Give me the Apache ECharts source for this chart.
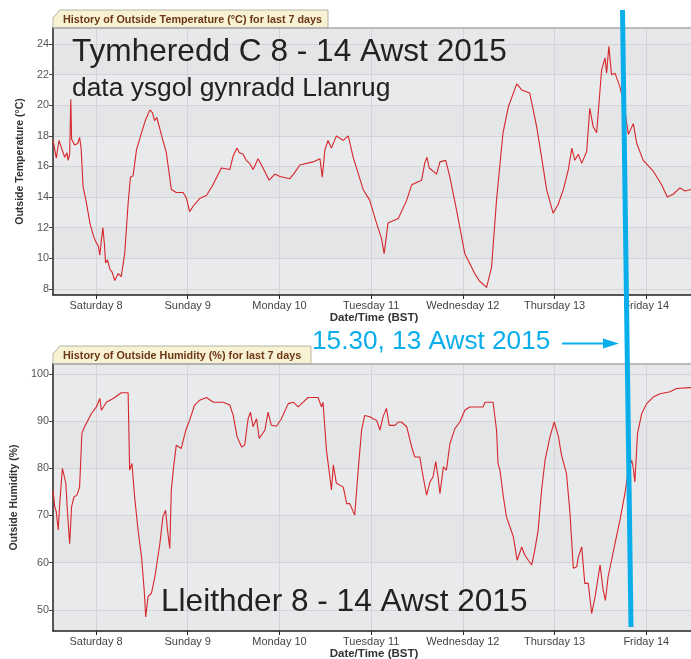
<!DOCTYPE html>
<html>
<head>
<meta charset="utf-8">
<script src="https://cdn.jsdelivr.net/npm/echarts@6/dist/echarts.min.js"></script>
<style>
  html, body { margin: 0; padding: 0; background: #fff; }
  #chart { width: 691px; height: 659px; }
</style>
</head>
<body>
<div id="chart"></div>
<script>
  // hours from Saturday 8 00:00 (BST)
  var dayTicks = [0, 24, 48, 72, 96, 120, 144]
  var dayLabels = ['Saturday 8', 'Sunday 9', 'Monday 10', 'Tuesday 11', 'Wednesday 12', 'Thursday 13', 'Friday 14']
  var tempTicks = [8, 10, 12, 14, 16, 18, 20, 22, 24]
  var humTicks = [50, 60, 70, 80, 90, 100]

  var tempHours = [-11.26, -10.4, -9.7, -9.2, -8.2, -7.6, -7.3, -6.9, -6.6, -6.4, -5.6, -4.8, -4.3, -3.9, -3.4, -2.5, -1.6, -0.6, 0.1, 0.6,
    1.0, 1.4, 1.8, 2.2, 2.5, 3.0, 3.6, 4.2, 4.9, 5.4, 5.8, 6.6, 7.5, 8.4, 9.0, 9.7, 10.6, 11.9, 12.9, 14.1,
    14.8, 15.3, 15.9, 17.5, 18.4, 19.7, 21.0, 22.8, 23.7, 24.5, 25.4, 27.1, 28.9, 30.6, 32.8, 33.2, 35.0, 35.9, 36.9, 37.5,
    38.5, 39.3, 40.2, 41.1, 42.4, 43.7, 45.3, 46.8, 48.1, 50.7, 52.0, 53.3, 56.8, 58.6, 59.2, 59.9, 60.7, 61.6, 62.9, 64.7,
    66.0, 67.3, 69.9, 71.6, 73.4, 74.7, 75.4, 76.4, 79.1, 81.3, 82.6, 85.2, 86.0, 86.6, 87.2, 89.1, 90.0, 91.5, 92.6, 94.3,
    96.5, 99.1, 100.4, 102.2, 103.5, 104.8, 106.5, 107.9, 110.1, 111.4, 113.5, 115.3, 116.6, 117.9, 119.6, 120.9, 122.3, 123.6, 124.5, 125.3,
    126.2, 127.1, 128.4, 129.2, 130.1, 131.0, 132.3, 133.2, 133.6, 134.2, 134.9, 135.8, 137.1, 138.2, 139.3, 140.6, 141.5, 143.2, 145.8, 148.0,
    149.5, 151.1, 152.8, 154.1, 155.7, 156.7]
  var tempValues = [17.75, 16.55, 17.7, 17.6, 16.6, 16.9, 16.4, 16.8, 20.4, 17.8, 17.4, 17.5, 17.9, 17.2, 14.7, 13.6, 12.3, 11.4, 11.0, 10.8,
    10.2, 11.2, 12.0, 10.9, 9.7, 9.9, 9.3, 9.1, 8.55, 8.8, 9.0, 8.8, 10.3, 13.6, 15.3, 15.4, 17.1, 18.2, 19.0, 19.7,
    19.5, 19.0, 19.2, 17.7, 16.9, 14.5, 14.3, 14.3, 13.9, 13.05, 13.4, 13.9, 14.1, 14.8, 15.9, 16.0, 15.8, 16.7, 17.2, 16.9,
    16.8, 16.4, 16.2, 15.8, 16.5, 15.9, 15.1, 15.5, 15.35, 15.2, 15.6, 16.1, 16.3, 16.5, 15.3, 17.1, 17.7, 17.2, 18.0, 17.7,
    18.0, 16.6, 14.5, 13.8, 12.3, 11.3, 10.3, 12.3, 12.6, 13.8, 14.8, 15.1, 16.2, 16.6, 15.9, 15.5, 16.3, 16.4, 15.3, 13.2,
    10.3, 9.0, 8.5, 8.1, 9.4, 13.8, 18.2, 19.9, 21.4, 21.0, 20.8, 18.6, 16.6, 14.5, 12.95, 13.5, 14.5, 15.8, 17.2, 16.4,
    16.8, 16.2, 17.0, 19.8, 18.6, 18.2, 22.3, 23.1, 22.1, 23.85, 22.0, 22.1, 21.2, 20.0, 18.1, 18.8, 17.5, 16.4, 15.7, 14.8,
    14.0, 14.2, 14.6, 14.4, 14.5, 14.4]

  var humHours = [-11.26, -10.8, -10.4, -9.9, -9.5, -8.8, -8.4, -7.9, -7.5, -6.9, -6.4, -5.8, -5.0, -4.3, -3.7, -3.0, -2.1, -1.2, 0.1, 1.0,
    1.4, 2.7, 4.5, 6.6, 8.4, 8.8, 9.4, 10.1, 11.0, 11.9, 12.6, 13.0, 13.6, 14.5, 15.4, 16.7, 17.5, 18.2, 18.7, 19.3,
    19.7, 20.3, 21.0, 22.3, 23.5, 24.5, 25.8, 27.1, 28.9, 30.7, 33.3, 35.0, 35.9, 36.9, 38.1, 38.9, 39.8, 40.4, 41.1, 42.0,
    42.7, 44.2, 45.0, 45.9, 47.2, 48.5, 50.3, 51.6, 52.9, 54.2, 55.5, 58.1, 59.0, 59.4, 60.3, 61.2, 61.6, 62.1, 62.9, 64.7,
    65.6, 66.4, 67.3, 67.7, 68.6, 69.5, 70.3, 71.7, 72.5, 73.4, 74.3, 75.1, 76.0, 76.7, 78.2, 79.1, 79.9, 81.3, 82.6, 83.4,
    84.7, 85.6, 86.5, 87.4, 88.2, 88.9, 89.5, 90.0, 90.9, 91.7, 92.6, 93.9, 95.2, 96.5, 97.8, 101.3, 101.8, 103.9, 104.8, 105.2,
    105.7, 106.6, 107.4, 108.3, 109.2, 110.2, 111.4, 112.2, 113.1, 114.0, 114.8, 115.7, 116.6, 117.5, 118.8, 119.9, 121.0, 121.8, 123.1, 124.0,
    124.9, 125.8, 126.2, 127.1, 127.9, 128.8, 129.7, 130.6, 131.9, 132.7, 133.3, 134.0, 134.9, 135.8, 137.1, 138.4, 139.3, 140.2, 140.6, 141.0,
    141.7, 142.8, 144.1, 145.8, 147.6, 150.2, 151.9, 155.4, 156.7]
  var humValues = [75.4, 71.8, 70.8, 66.9, 72.5, 80, 80, 76.8, 71.1, 64, 71.8, 73.9, 74.3, 76, 87.4, 88.8, 90.2, 91.6, 93, 94.8,
    92.3, 94, 94.8, 96, 96, 79.6, 81, 73.9, 66.9, 61.2, 54.2, 48.5, 52.8, 53.5, 57, 64, 69.7, 71.1, 66.9, 63,
    75.4, 80.3, 84.9, 84.2, 88.1, 90.2, 93.4, 94.4, 95, 94, 94, 93.4, 91.2, 86.7, 84.5, 84.9, 90.5, 91.9, 88.8, 90.5,
    86.3, 88.1, 91.9, 89.1, 88.9, 90.5, 93.7, 94, 93, 94, 95, 95, 93, 94, 83.8, 78.1, 75.4, 80.7, 76.8, 76,
    72.5, 72.5, 70.8, 70.1, 79.6, 88.1, 91.2, 90.9, 90.5, 90.2, 88.1, 90.9, 92.7, 89.1, 89.1, 89.8, 89.8, 88.8, 84.5, 82.4,
    82.4, 78.2, 74.3, 77.1, 78.2, 81.4, 78.2, 74.6, 80.3, 79.6, 85.2, 88.4, 89.8, 92.3, 93, 93, 94, 94, 88.1, 81,
    79.6, 73.9, 69.7, 67.6, 65.5, 60.5, 63.3, 61.6, 60.5, 59.5, 62.6, 66.9, 75.4, 81.7, 86.7, 89.8, 86.7, 82.8, 78.9, 70.8,
    58.8, 59.1, 61.2, 63.3, 55.6, 55.6, 49.2, 52.8, 59.5, 54.2, 52, 57, 60.5, 64, 69, 74.6, 79.6, 81.7, 80, 77.1,
    87.4, 91.6, 93.7, 95.1, 95.8, 96.2, 96.9, 97.1, 97]

  var tempData = tempHours.map(function (h, i) { return [h, tempValues[i]] })
  var humData = humHours.map(function (h, i) { return [h, humValues[i]] })

  var font = 'Liberation Sans, Arial, sans-serif'
  var blue = '#0aaeea'
  var bandColors = ['#e8eaec', '#e3e5e7']

  function xAxisFor (gridIndex) {
    return {
      type: 'value',
      gridIndex: gridIndex,
      min: -11.26,
      max: 156.74,
      name: 'Date/Time (BST)',
      nameLocation: 'middle',
      nameGap: 16,
      nameTextStyle: { fontFamily: font, fontSize: 11.5, fontWeight: 'bold', color: '#333' },
      axisLine: { onZero: false, lineStyle: { color: '#222', width: 1.5 } },
      axisTick: { show: true, length: 4, customValues: dayTicks, lineStyle: { color: '#222' } },
      axisLabel: {
        customValues: dayTicks,
        fontFamily: font,
        fontSize: 11,
        color: '#444',
        margin: 5,
        formatter: function (v) { return dayLabels[Math.round(v / 24)] }
      },
      splitLine: { show: true, lineStyle: { color: '#d2d4d7', width: 1 } }
    }
  }

  function yAxisFor (gridIndex, min, max, ticks, name, gap) {
    return {
      type: 'value',
      gridIndex: gridIndex,
      min: min,
      max: max,
      name: name,
      nameLocation: 'middle',
      nameGap: gap,
      nameTextStyle: { fontFamily: font, fontSize: 10.5, fontWeight: 'bold', color: '#333' },
      axisLine: { show: true, onZero: false, lineStyle: { color: '#222', width: 1.5 } },
      axisTick: { show: true, length: 4, customValues: ticks, lineStyle: { color: '#444' } },
      axisLabel: { customValues: ticks, fontFamily: font, fontSize: 10.8, color: '#555', margin: 4 },
      splitLine: { show: true, lineStyle: { color: '#d2d4d7', width: 1 } },
      splitArea: { show: true, areaStyle: { color: bandColors } }
    }
  }

  function tab (x1, y1, y2, text) {
    return {
      type: 'group',
      children: [
        {
          type: 'polygon',
          shape: { points: [[53, y2], [53, y1 + 8], [60, y1], [x1, y1], [x1, y2]] },
          style: { fill: '#f7f2d4', stroke: '#b5b3a4', lineWidth: 1 }
        },
        {
          type: 'text',
          x: 63,
          y: (y1 + y2) / 2 + 1,
          style: { text: text, fill: '#6e3716', font: 'bold 10.8px ' + font, textVerticalAlign: 'middle' }
        }
      ]
    }
  }

  var chart = echarts.init(document.getElementById('chart'))
  chart.setOption({
    animation: false,
    backgroundColor: '#fff',
    grid: [
      { left: 53, top: 28, width: 642, height: 267, outerBoundsMode: 'none', show: true, backgroundColor: '#e6e8ea', borderWidth: 0 },
      { left: 53, top: 364, width: 642, height: 267, outerBoundsMode: 'none', show: true, backgroundColor: '#e6e8ea', borderWidth: 0 }
    ],
    xAxis: [xAxisFor(0), xAxisFor(1)],
    yAxis: [
      yAxisFor(0, 7.6, 25.05, tempTicks, 'Outside Temperature (°C)', 21),
      yAxisFor(1, 45.5, 102.1, humTicks, 'Outside Humidity (%)', 30)
    ],
    series: [
      {
        name: 'Outside Temperature',
        type: 'line',
        xAxisIndex: 0,
        yAxisIndex: 0,
        data: tempData,
        showSymbol: false,
        lineStyle: { color: '#d7262b', width: 1.1 }
      },
      {
        name: 'Outside Humidity',
        type: 'line',
        xAxisIndex: 1,
        yAxisIndex: 1,
        data: humData,
        showSymbol: false,
        lineStyle: { color: '#d7262b', width: 1.1 }
      }
    ],
    graphic: [
      { type: 'line', shape: { x1: 53, y1: 28, x2: 691, y2: 28 }, style: { stroke: '#a8a8a8', lineWidth: 1.5 }, z: 10 },
      { type: 'line', shape: { x1: 53, y1: 364, x2: 691, y2: 364 }, style: { stroke: '#a8a8a8', lineWidth: 1.5 }, z: 10 },
      tab(328, 10, 28, 'History of Outside Temperature (°C) for last 7 days'),
      tab(311, 346, 364, 'History of Outside Humidity (%) for last 7 days'),
      {
        type: 'text', x: 72, y: 52.5, z: 20,
        style: { text: 'Tymheredd C 8 - 14 Awst 2015', fill: '#222', font: '31.6px ' + font, textVerticalAlign: 'middle' }
      },
      {
        type: 'text', x: 72, y: 88.5, z: 20,
        style: { text: 'data ysgol gynradd Llanrug', fill: '#222', font: '26.4px ' + font, textVerticalAlign: 'middle' }
      },
      {
        type: 'text', x: 161, y: 602, z: 20,
        style: { text: 'Lleithder 8 - 14 Awst 2015', fill: '#222', font: '31.6px ' + font, textVerticalAlign: 'middle' }
      },
      {
        type: 'text', x: 312, y: 341.5, z: 20,
        style: { text: '15.30, 13 Awst 2015', fill: blue, font: '26.2px ' + font, textVerticalAlign: 'middle' }
      },
      { type: 'line', shape: { x1: 562, y1: 343.5, x2: 606, y2: 343.5 }, style: { stroke: blue, lineWidth: 2 }, z: 20 },
      { type: 'polygon', shape: { points: [[603, 338.5], [619, 343.5], [603, 348.5]] }, style: { fill: blue }, z: 20 },
      { type: 'line', shape: { x1: 622.5, y1: 10, x2: 631, y2: 627 }, style: { stroke: blue, lineWidth: 5 }, z: 20 }
    ]
  })
</script>
</body>
</html>
